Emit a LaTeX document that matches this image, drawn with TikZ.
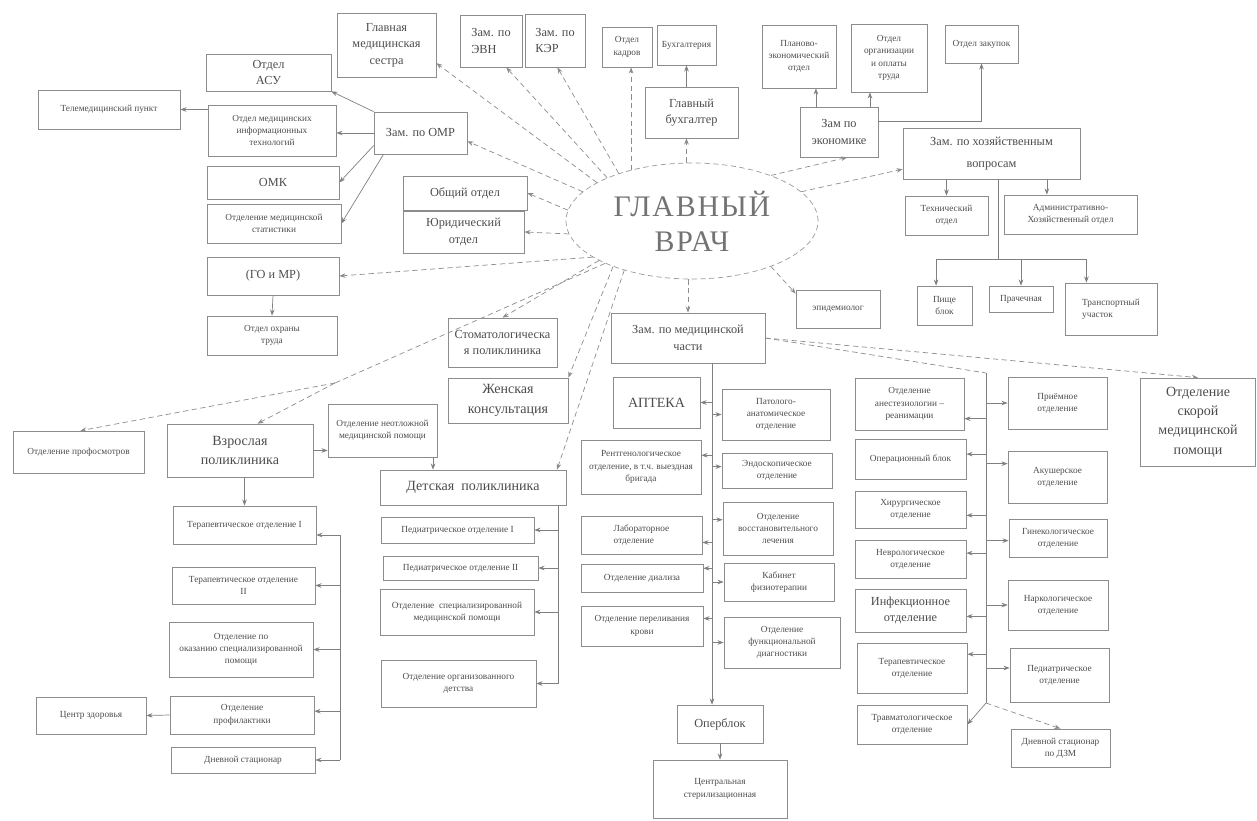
\documentclass[tikz,border=0pt]{standalone}
\usepackage{fontspec}
\setmainfont{Liberation Serif}
\usetikzlibrary{arrows.meta, positioning, shapes.geometric, calc}

\begin{document}
\begin{tikzpicture}[>={Stealth[length=3.5pt, width=2.6pt]}, x=0.02cm, y=-0.02cm]

% --- Style Definitions ---
\tikzset{wh/.style 2 args={minimum width=#1*0.02cm, minimum height=#2*0.02cm}}
\tikzstyle{unit_node}=[rectangle, draw=black!45, thin, align=center, inner sep=1pt, text=black!70, font=\fontsize{7}{9.5}\selectfont]
\tikzstyle{small_node}=[unit_node, font=\fontsize{5.3}{7}\selectfont]
\tikzstyle{big_node}=[unit_node, font=\fontsize{8}{11}\selectfont]
\tikzstyle{chief_node}=[ellipse, draw=black!40, densely dashed, thin, align=center, inner sep=0pt, text=black!55, font=\fontsize{17}{20}\selectfont\addfontfeature{LetterSpace=6}]

% Connector styles
\tikzstyle{chief_arrow}=[->, black!45, densely dashed, thin]
\tikzstyle{chief_line}=[black!45, densely dashed, thin]
\tikzstyle{tree_arrow}=[->, black!50, thin]
\tikzstyle{tree_line}=[black!50, thin]

\useasboundingbox (0,0) rectangle (1257,821);

% --- Chief doctor ---
\node[chief_node, wh={252}{116}] (gv) at (692,221) {ГЛАВНЫЙ\\ВРАЧ};

% --- Top row ---
\node[unit_node, wh={99}{64}] (glmed) at (386.5,45) {Главная\\медицинская\\сестра};
\node[unit_node, wh={62}{52}, align=left] (evn) at (491,41) {Зам. по\\ЭВН};
\node[unit_node, wh={60}{53}, align=left] (ker) at (555,40.5) {Зам. по\\КЭР};
\node[small_node, wh={50}{40}] (kadr) at (627,47) {Отдел\\кадров};
\node[small_node, wh={59}{40}] (buh) at (686.5,45) {Бухгалтерия};
\node[unit_node, wh={93}{51}] (glbuh) at (691.5,112.5) {Главный\\бухгалтер};
\node[small_node, wh={74}{63}] (plan) at (799,56.5) {Планово-\\экономический\\отдел};
\node[small_node, wh={76}{68}] (oplata) at (889,58) {Отдел\\организации\\и оплаты\\труда};
\node[small_node, wh={73}{38}] (zakup) at (981.5,44) {Отдел закупок};
\node[unit_node, wh={78}{50}] (econ) at (839,132) {Зам по\\экономике};
\node[unit_node, wh={177}{51}] (hoz) at (991.5,153.5) {Зам. по хозяйственным\\[3pt]вопросам};
\node[small_node, wh={83}{39}] (tech) at (946.5,215.5) {Технический\\отдел};
\node[small_node, wh={133}{39}] (aho) at (1070.5,214.5) {Административно-\\Хозяйственный отдел};
\node[small_node, wh={55}{39}] (pishe) at (944.5,305.5) {Пище\\блок};
\node[small_node, wh={64}{26}] (prach) at (1021,299) {Прачечная};
\node[small_node, wh={92}{52}, align=left] (transp) at (1111,309) {Транспортный\\участок};
\node[small_node, wh={84}{38}] (epid) at (838,309) {эпидемиолог};

% --- Left wing ---
\node[unit_node, wh={125}{37}] (asu) at (268.5,72.5) {Отдел\\АСУ};
\node[small_node, wh={142}{39}] (tele) at (109,109.5) {Телемедицинский пункт};
\node[small_node, wh={128}{51}] (mit) at (272,130.5) {Отдел медицинских\\информационных\\технологий};
\node[unit_node, wh={93}{42}] (omr) at (420.5,133) {Зам. по ОМР};
\node[unit_node, wh={132}{33}] (omk) at (273,182.5) {ОМК};
\node[small_node, wh={134}{39}] (stat) at (274,223.5) {Отделение медицинской\\статистики};
\node[unit_node, wh={132}{38}] (go) at (273,276) {(ГО и МР)};
\node[small_node, wh={130}{39}] (ohrana) at (272,335.5) {Отдел охраны\\труда};
\node[unit_node, wh={124}{34}] (obsh) at (465,193) {Общий отдел};
\node[unit_node, wh={121}{42}] (yur) at (463.5,232) {Юридический\\отдел};
\node[unit_node, wh={109}{49}] (stom) at (502.5,342.5) {Стоматологическа\\я поликлиника};
\node[big_node, wh={120}{45}] (zhen) at (508,400.5) {Женская\\консультация};

% --- Medical deputy and services ---
\node[unit_node, wh={154}{50}] (zammed) at (688,338) {Зам. по медицинской\\части};
\node[big_node, wh={87}{51}] (apteka) at (656.5,402.5) {АПТЕКА};
\node[small_node, wh={120}{54}] (rentgen) at (641,467) {Рентгенологическое\\отделение, в т.ч. выездная\\бригада};
\node[small_node, wh={121}{38}, align=left] (lab) at (641.5,535) {Лабораторное\\отделение};
\node[small_node, wh={122}{28}] (dializ) at (642,578) {Отделение диализа};
\node[small_node, wh={122}{40}] (perel) at (642,626) {Отделение переливания\\крови};
\node[small_node, wh={108}{51}] (pat) at (776,414.5) {Патолого-\\анатомическое\\отделение};
\node[small_node, wh={110}{35}] (endo) at (777,470.5) {Эндоскопическое\\отделение};
\node[small_node, wh={110}{53}] (vosst) at (778,528.5) {Отделение\\восстановительного\\лечения};
\node[small_node, wh={110}{38}] (fizio) at (779,582) {Кабинет\\физиотерапии};
\node[small_node, wh={116}{51}] (funk) at (782,642.5) {Отделение\\функциональной\\диагностики};
\node[unit_node, wh={86}{38}] (operblok) at (720,724) {Оперблок};
\node[small_node, wh={134}{58}] (steril) at (720,789) {Центральная\\стерилизационная};

% --- Hospital departments ---
\node[big_node, wh={115}{88}] (skor) at (1198,422) {Отделение\\скорой\\медицинской\\помощи};
\node[small_node, wh={109}{52}] (anest) at (909.5,404) {Отделение\\анестезиологии –\\реанимации};
\node[small_node, wh={111}{40}] (operac) at (910.5,459) {Операционный блок};
\node[small_node, wh={111}{37}] (hirurg) at (910.5,509.5) {Хирургическое\\отделение};
\node[small_node, wh={111}{38}] (nevr) at (910.5,559) {Неврологическое\\отделение};
\node[unit_node, wh={111}{43}] (infek) at (910.5,610.5) {Инфекционное\\отделение};
\node[small_node, wh={110}{50}] (terap) at (912,668) {Терапевтическое\\отделение};
\node[small_node, wh={110}{39}] (travm) at (912,724.5) {Травматологическое\\отделение};
\node[small_node, wh={99}{52}] (priem) at (1057.5,403) {Приёмное\\отделение};
\node[small_node, wh={99}{52}] (akush) at (1057.5,477) {Акушерское\\отделение};
\node[small_node, wh={98}{38}] (ginek) at (1058,538) {Гинекологическое\\отделение};
\node[small_node, wh={100}{50}] (nark) at (1058,605) {Наркологическое\\отделение};
\node[small_node, wh={99}{54}] (pediatr) at (1059.5,675) {Педиатрическое\\отделение};
\node[small_node, wh={99}{38}] (dnevdzm) at (1060.5,748) {Дневной стационар\\по ДЗМ};

% --- Polyclinics ---
\node[small_node, wh={109}{53}] (neotl) at (382.5,430.5) {Отделение неотложной\\медицинской помощи};
\node[big_node, wh={186}{35}] (detsk) at (473,487.5) {Детская\ \ поликлиника};
\node[small_node, wh={153}{26}] (ped1) at (457.5,530) {Педиатрическое отделение I};
\node[small_node, wh={155}{24}] (ped2) at (460.5,568) {Педиатрическое отделение II};
\node[small_node, wh={154}{46}] (spec) at (457,612) {Отделение\ \ специализированной\\медицинской помощи};
\node[small_node, wh={155}{47}] (org) at (458.5,683.5) {Отделение организованного\\детства};
\node[small_node, wh={131}{42}] (profosm) at (78.5,452) {Отделение профосмотров};
\node[big_node, wh={146}{53}] (vzr) at (240,450.5) {Взрослая\\поликлиника};
\node[small_node, wh={143}{38}] (ter1) at (244.5,525) {Терапевтическое отделение I};
\node[small_node, wh={143}{37}] (ter2) at (243.5,585.5) {Терапевтическое отделение\\II};
\node[small_node, wh={144}{55}] (okaz) at (241,649.5) {Отделение по\\оказанию специализированной\\помощи};
\node[small_node, wh={144}{38}] (profil) at (242,715) {Отделение\\профилактики};
\node[small_node, wh={110}{37}] (zdorov) at (91,715.5) {Центр здоровья};
\node[small_node, wh={144}{26}] (dnev) at (243,760) {Дневной стационар};

% --- Trunk points ---
\coordinate (fork) at (335,383);
\coordinate (vt) at (340,535);
\coordinate (dt) at (558,505);
\coordinate (mt) at (712,363);
\coordinate (rt) at (986,373);
\coordinate (rb) at (986,703);
\coordinate (ht) at (998,259);

% --- Draw Connections ---

% 1. From the chief doctor
\draw[chief_arrow] (gv.158) -- (glmed.-20);
\draw[chief_arrow] (gv.153) -- (evn.-60);
\draw[chief_arrow] (gv.147) -- (ker.-85);
\draw[chief_arrow] (gv.140) -- (gv.140 |- kadr.south);
\draw[chief_arrow] (gv.north -| buh) -- (glbuh.south -| buh);
\draw[chief_arrow] (gv.30) -- (econ.-72);
\draw[chief_arrow] (gv.15) -- (hoz.-170);
\draw[chief_arrow] (gv.-30) -- (epid.160);
\draw[chief_arrow] (gv.165) -- (omr.-10);
\draw[chief_arrow] (gv.175) -- (obsh.east);
\draw[chief_arrow] (gv.186) -- (yur.east);
\draw[chief_arrow] (gv.200) -- (go.east);
\draw[chief_arrow] (gv.203) -- (stom.north);
\draw[chief_line] (gv.206) -- (fork);
\draw[chief_arrow] (fork) -- (vzr.57);
\draw[chief_arrow] (fork) -- (profosm.85);
\draw[chief_arrow] (gv.210) -- (zhen.north east);
\draw[chief_arrow] (gv.216) -- (detsk.12);
\draw[chief_arrow] (zammed.north |- gv.south) -- (zammed.north);

% 2. Top branches
\draw[tree_arrow] (glbuh.north -| buh) -- (buh.south);
\draw[tree_arrow] (econ.north -| plan.-62) -- (plan.-62);
\draw[tree_arrow] (econ.north -| oplata.-119) -- (oplata.-119);
\draw[tree_arrow] (econ.15) -| (zakup.south);
\draw[tree_arrow] (hoz.south -| tech.north) -- (tech.north);
\draw[tree_arrow] (hoz.south -| aho.140) -- (aho.140);
\draw[tree_line] (hoz.south -| ht) -- (ht);
\draw[tree_arrow] (ht) -| (pishe.113);
\draw[tree_arrow] (ht) -| (transp.133);
\draw[tree_arrow] (ht -| prach.north) -- (prach.north);

% 3. OMR branch
\draw[tree_arrow] (omr.north west) -- (asu.south east);
\draw[tree_arrow] (omr.west) -- (omr.west -| mit.east);
\draw[tree_arrow] (omr.-165) -- (omk.east);
\draw[tree_arrow] (omr.-150) -- (stat.east);
\draw[tree_arrow] (mit.west |- tele.east) -- (tele.east);
\draw[tree_arrow] (go.south) -- (ohrana.north);

% 4. Medical deputy trunk
\draw[tree_arrow] (zammed.south -| mt) -- (operblok.north -| mt);
\foreach \n/\a in {apteka/0, rentgen/11, lab/-7, dializ/9, perel/7}
  \draw[tree_arrow] (\n.\a -| mt) -- (\n.\a);
\foreach \n/\a in {pat/180, endo/176, vosst/171, fizio/180, funk/180}
  \draw[tree_arrow] (\n.\a -| mt) -- (\n.\a);
\draw[tree_arrow] (operblok.south) -- (steril.north);

% 5. Hospital wing
\draw[chief_line] (zammed.east) -- (rt);
\draw[chief_arrow] (zammed.east) -- (skor.north);
\draw[tree_line] (rt) -- (rb);
\foreach \n/\a in {anest/-15, operac/5, hirurg/-6, nevr/6, infek/-6, terap/14}
  \draw[tree_arrow] (\n.\a -| rt) -- (\n.\a);
\foreach \n/\a in {priem/180, akush/165, ginek/183, nark/180, pediatr/172}
  \draw[tree_arrow] (\n.\a -| rt) -- (\n.\a);
\draw[tree_arrow] (rb) -- (travm.east);
\draw[chief_arrow] (rb) -- (dnevdzm.north);

% 6. Children polyclinic
\draw[tree_line] (detsk.south -| dt) -- (org.east -| dt);
\foreach \n in {ped1, ped2, spec, org}
  \draw[tree_arrow] (\n.east -| dt) -- (\n.east);
\draw[tree_arrow] (vzr.east) -- (vzr.east -| neotl.west);
\draw[tree_arrow] (neotl.-28) -- (neotl.-28 |- detsk.north);

% 7. Adult polyclinic
\draw[tree_arrow] (vzr.south -| ter1.north) -- (ter1.north);
\draw[tree_line] (vt) -- (dnev.east -| vt);
\draw[tree_arrow] (vt) -- (vt -| ter1.east);
\foreach \n/\a in {ter2/0, okaz/0, profil/3, dnev/0}
  \draw[tree_arrow] (\n.\a -| vt) -- (\n.\a);
\draw[tree_arrow] (profil.west) -- (zdorov.east);

\end{tikzpicture}
\end{document}
